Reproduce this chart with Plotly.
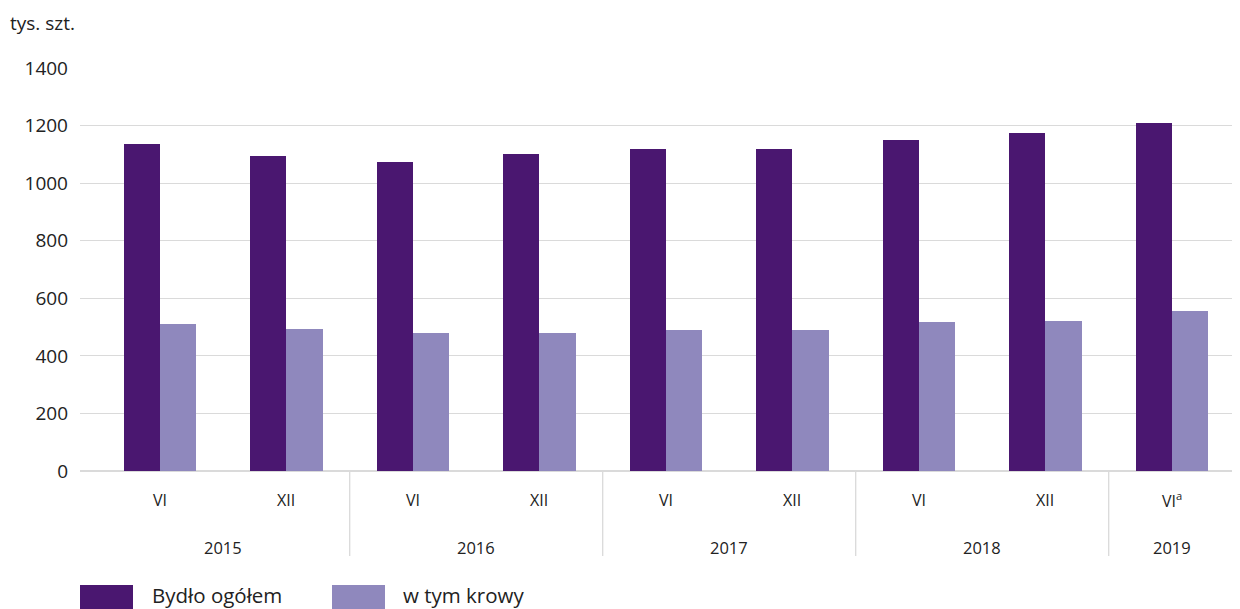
import plotly.graph_objects as go

# ---- data ----
months = ["VI", "XII", "VI", "XII", "VI", "XII", "VI", "XII", "VI<sup>a</sup>"]
years = ["2015", "2016", "2017", "2018", "2019"]
year_span = [2, 2, 2, 2, 1]  # number of periods in each year
bydlo = [1136, 1093, 1072, 1100, 1120, 1120, 1151, 1173, 1208]
krowy = [511, 493, 478, 481, 490, 490, 517, 521, 557]
series_names = ["Bydło ogółem", "w tym krowy"]
y_ticks = [0, 200, 400, 600, 800, 1000, 1200, 1400]

DARK = "#4a1770"
LIGHT = "#8f88bd"
GRID = "#dadada"
TEXT = "#222222"
FONT = "Open Sans"

# the page body has an 8px margin, so the figure is drawn 8px smaller
OFF = 8
W, H = 1240 - OFF, 609 - OFF
L, R, T, B = 80 - OFF, 0, 68 - OFF, 138
PH = H - T - B
PW = W - L - R

xs = list(range(len(months)))
bw = 0.285

fig = go.Figure()
fig.add_trace(go.Bar(x=xs, y=bydlo, name=series_names[0], marker_color=DARK,
                     marker_line_width=0, width=bw, offset=-bw, showlegend=False))
fig.add_trace(go.Bar(x=xs, y=krowy, name=series_names[1], marker_color=LIGHT,
                     marker_line_width=0, width=bw, offset=0, showlegend=False))

def py(px):  # window pixel y -> paper y
    return (H - B - (px - OFF)) / PH

def pxp(px):  # window pixel x -> paper x
    return ((px - OFF) - L) / PW

annotations = []
for i, m in enumerate(months):
    annotations.append(dict(x=i, y=py(500), xref="x", yref="paper", text=m,
                            showarrow=False, font=dict(size=16, color=TEXT, family=FONT),
                            xanchor="center", yanchor="middle"))
shapes = []
start = 0
for yi, (yr, span) in enumerate(zip(years, year_span)):
    center = start + (span - 1) / 2
    annotations.append(dict(x=center, y=py(547), xref="x", yref="paper", text=yr,
                            showarrow=False, font=dict(size=16.5, color=TEXT, family=FONT),
                            xanchor="center", yanchor="middle"))
    if yi > 0:
        shapes.append(dict(type="line", xref="x", yref="paper", x0=start - 0.5, x1=start - 0.5,
                           y0=0, y1=py(556), line=dict(color=GRID, width=1.3)))
    start += span

annotations.append(dict(x=pxp(8), y=py(23), xref="paper", yref="paper", text="tys. szt.",
                        showarrow=False, font=dict(size=19, color=TEXT, family=FONT),
                        xanchor="left", yanchor="middle"))

leg = [(80, 133, 150, DARK, series_names[0]), (332, 385, 401, LIGHT, series_names[1])]
for x0, x1, tx, col, name in leg:
    shapes.append(dict(type="rect", xref="paper", yref="paper", x0=pxp(x0), x1=pxp(x1),
                       y0=py(585), y1=py(615), fillcolor=col, line=dict(width=0)))
    annotations.append(dict(x=pxp(tx), y=py(595), xref="paper", yref="paper", text=name,
                            showarrow=False, font=dict(size=20.5, color=TEXT, family=FONT),
                            xanchor="left", yanchor="middle"))

fig.update_layout(
    width=W, height=H,
    margin=dict(l=L, r=R, t=T, b=B, pad=0),
    plot_bgcolor="white", paper_bgcolor="white",
    bargap=0, barmode="overlay",
    font=dict(family=FONT, color=TEXT, size=16),
    xaxis=dict(range=[-0.632, 8.538], showticklabels=False, showgrid=False,
               zeroline=False, showline=False, ticks=""),
    yaxis=dict(range=[0, 1400], tickvals=y_ticks, showgrid=True, gridcolor=GRID,
               gridwidth=1.3, zeroline=True, zerolinecolor=GRID, zerolinewidth=1.8,
               showline=False, ticks="", ticklabelstandoff=11,
               tickfont=dict(size=19, color=TEXT, family=FONT)),
    annotations=annotations,
    shapes=shapes,
)

fig.write_html("out.html")
